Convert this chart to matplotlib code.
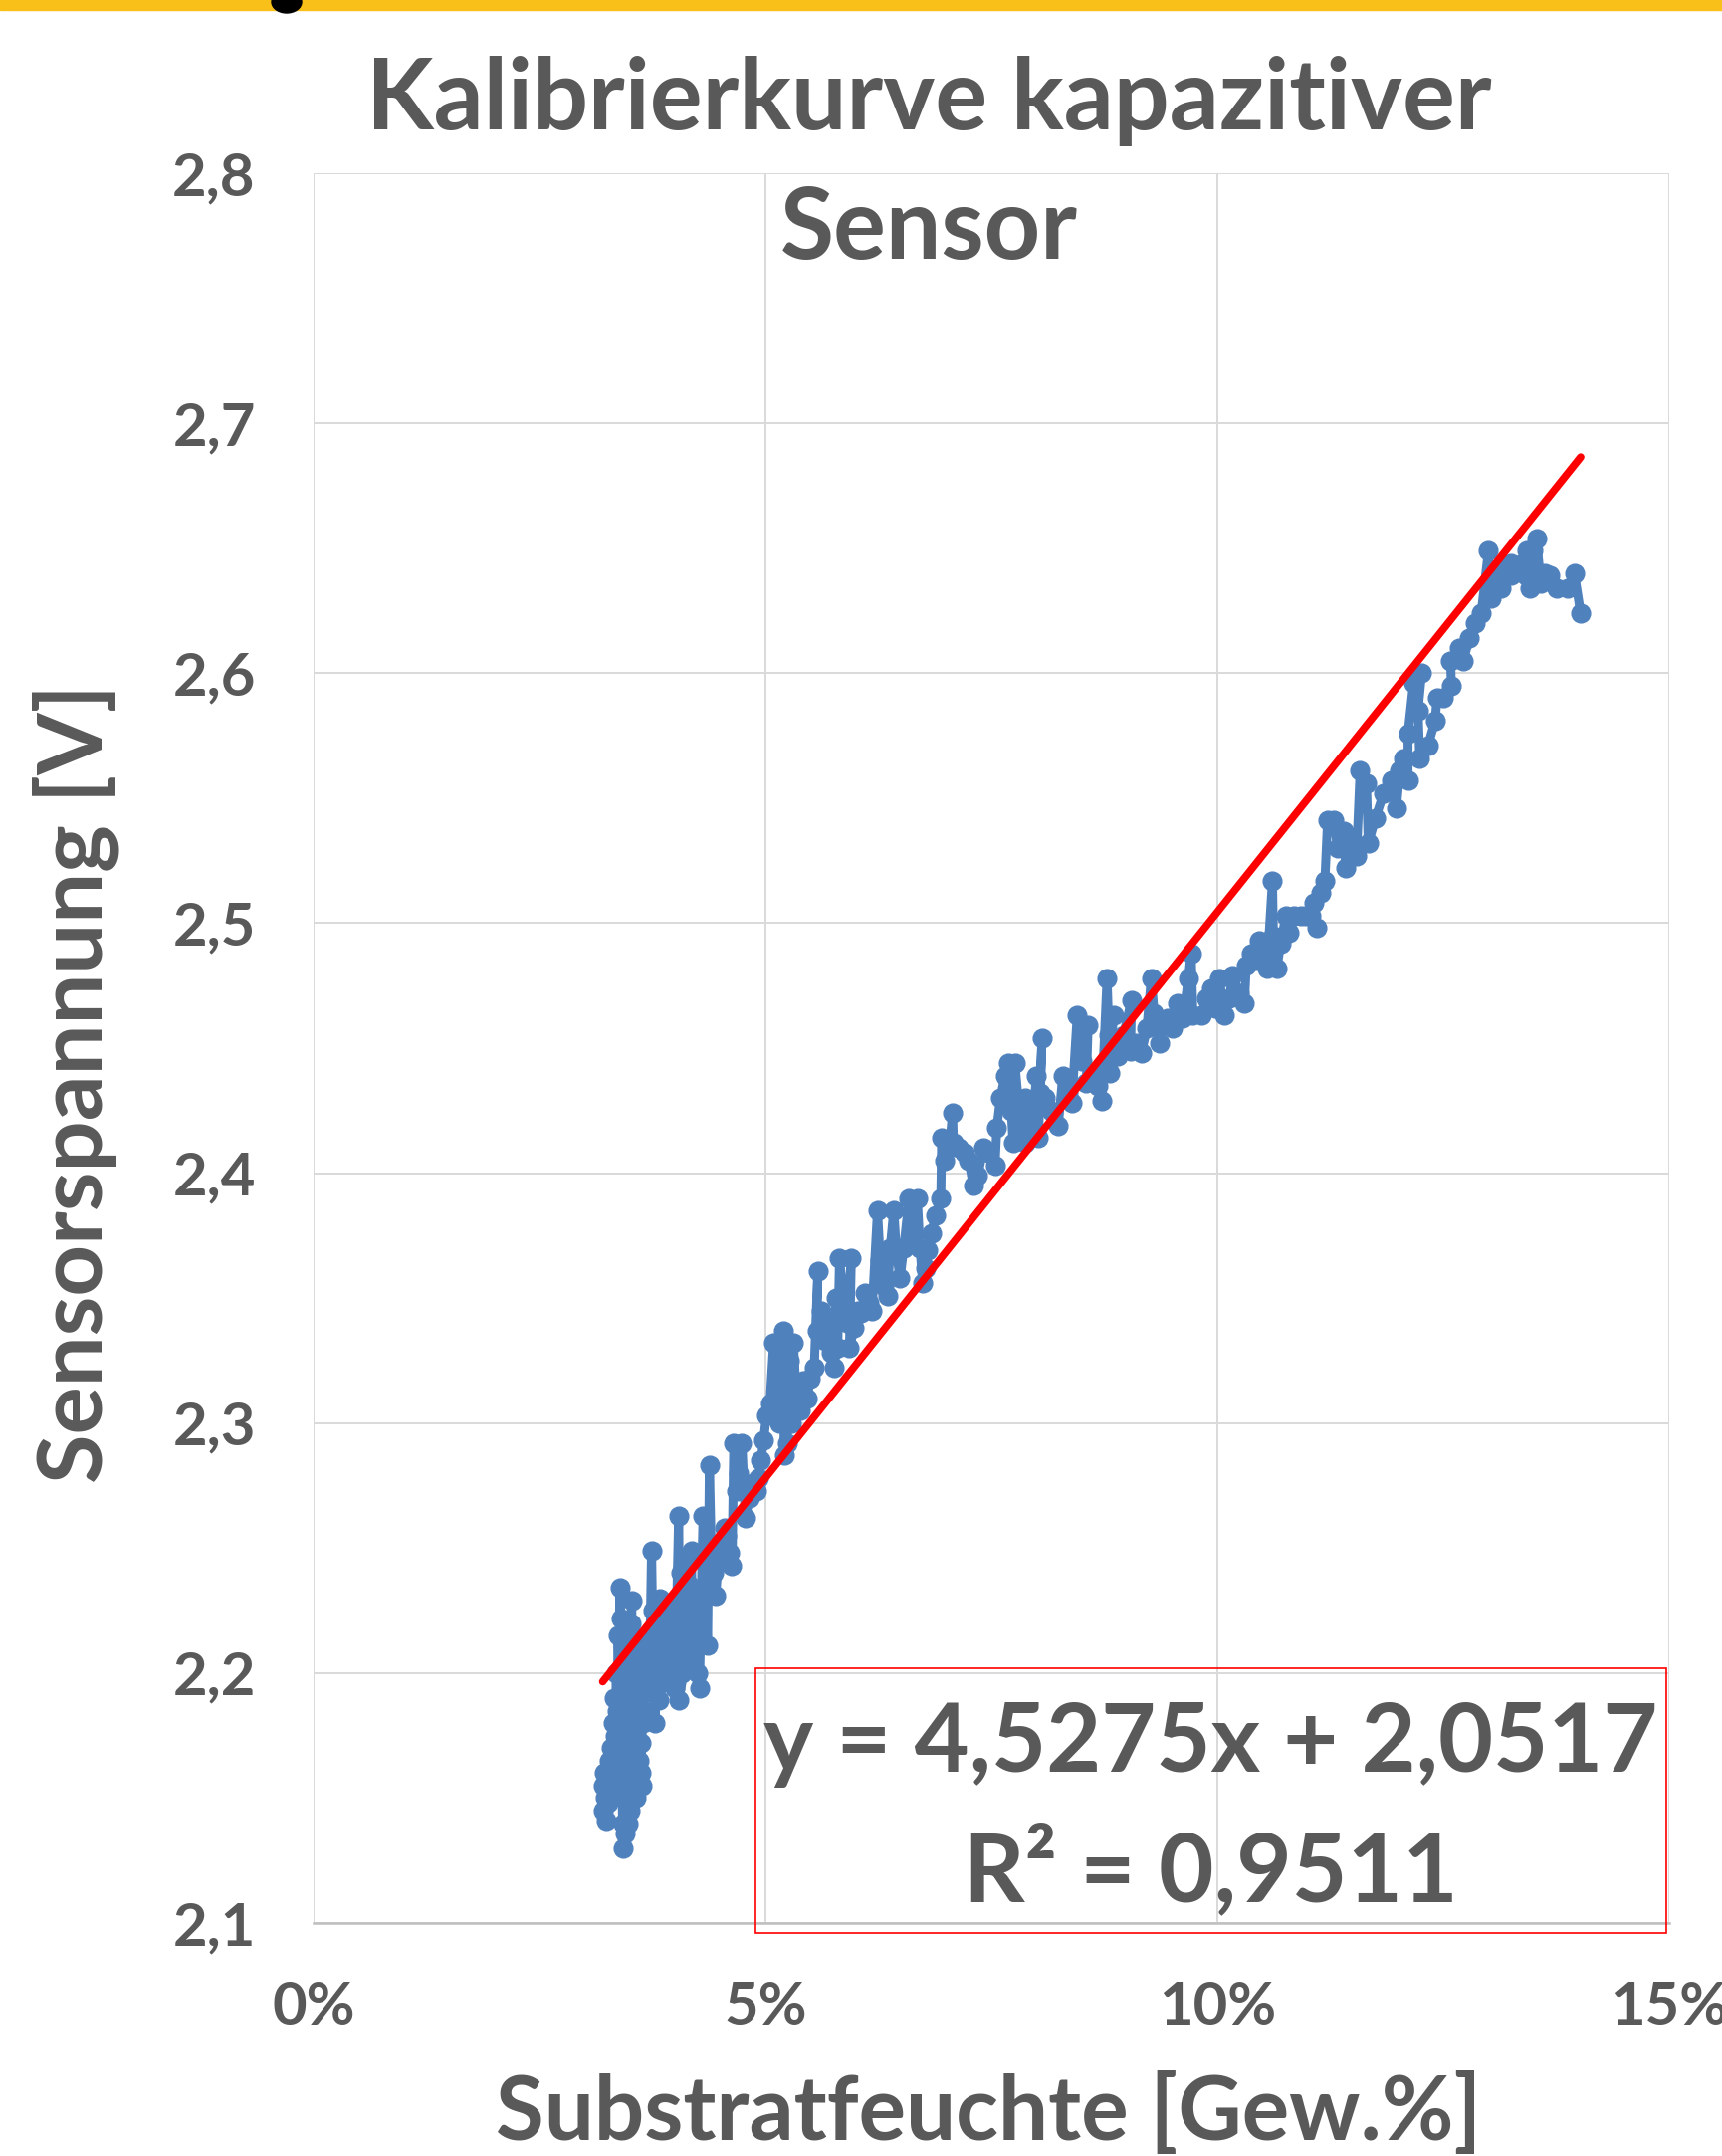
import numpy as np
import matplotlib
matplotlib.use("Agg")
import matplotlib.pyplot as plt
from matplotlib.patches import Rectangle, Ellipse
from matplotlib.ticker import FuncFormatter

# --- data (moisture in %, sensor voltage in V), in recording order ---
moisture_pct = [
    3.20, 3.21, 3.22, 3.23, 3.24, 3.25, 3.26, 3.27, 3.28, 3.29, 3.30, 3.31, 3.32, 3.33, 3.34,
    3.35, 3.36, 3.37, 3.38, 3.39, 3.40, 3.40, 3.41, 3.42, 3.43, 3.43, 3.44, 3.45, 3.45, 3.46,
    3.47, 3.47, 3.48, 3.49, 3.50, 3.50, 3.51, 3.52, 3.53, 3.53, 3.54, 3.55, 3.56, 3.57, 3.58,
    3.59, 3.60, 3.61, 3.62, 3.63,
    3.58, 3.55, 3.52, 3.48, 3.46, 3.50, 3.54, 3.57, 3.60, 3.62,
    3.64, 3.65, 3.66, 3.68, 3.70, 3.72, 3.74, 3.75, 3.76, 3.78,
    3.79, 3.81, 3.82, 3.83, 3.85, 3.87, 3.89, 3.91, 3.93, 3.95, 3.98, 4.00, 4.02, 4.04, 4.05,
    4.06, 4.08, 4.10, 4.12,
    4.04, 4.07, 4.10, 4.13, 4.16, 4.18, 4.19, 4.20, 4.23, 4.25, 4.27, 4.29, 4.31, 4.33, 4.36,
    4.38, 4.40, 4.43, 4.45, 4.48, 4.52, 4.55, 4.57, 4.60, 4.63, 4.65, 4.68, 4.70, 4.74, 4.76,
    4.78, 4.82, 4.86, 4.90, 4.92, 4.95, 4.98, 5.01, 5.05, 5.09, 5.12, 5.15, 5.18, 5.20, 5.21,
    5.22, 5.24, 5.26, 5.29,
    5.24, 5.28, 5.31, 5.34, 5.38, 5.42, 5.46, 5.50, 5.54, 5.58, 5.57, 5.62, 5.66, 5.70, 5.73,
    5.76, 5.78, 5.80, 5.82, 5.86, 5.90, 5.95, 5.93, 5.98, 6.02, 6.06, 6.10, 6.14, 6.18, 6.24, 6.27, 6.31,
    6.35, 6.38, 6.42, 6.45, 6.49, 6.53, 6.59, 6.63, 6.68, 6.71, 6.74, 6.77, 6.80, 6.84, 6.88,
    6.94, 6.95, 6.98, 7.04, 7.07, 7.08, 7.14, 7.20, 7.25, 7.30, 7.35, 7.41, 7.47, 7.54, 7.56,
    7.60, 7.65, 7.69, 7.72, 7.74, 7.76, 7.80, 7.84, 7.87, 7.87, 7.94, 8.00, 8.02, 8.06, 8.04,
    8.10, 8.16, 8.24, 8.29, 8.35, 8.39, 8.45, 8.50, 8.57, 8.55, 8.62, 8.68, 8.72, 8.78, 8.80,
    8.85, 8.81, 8.90, 8.96, 9.05, 9.04, 9.10, 9.16, 9.22, 9.27, 9.30, 9.36, 9.40, 9.45, 9.50,
    9.56, 9.62, 9.68, 9.71, 9.73, 9.82, 9.88, 9.93, 9.98, 10.02, 10.08, 10.13, 10.17, 10.24, 10.30,
    10.32, 10.37, 10.42, 10.46, 10.50, 10.55, 10.61, 10.62, 10.66, 10.70, 10.76, 10.79, 10.85, 10.92, 10.98,
    11.03, 11.10, 11.07, 11.14, 11.19, 11.22, 11.29, 11.33, 11.40, 11.42, 11.46, 11.54, 11.58, 11.65, 11.67,
    11.75, 11.84, 11.93, 11.98, 12.02, 12.06, 12.11, 12.11, 12.17, 12.26, 12.22, 12.24, 12.33, 12.41, 12.43,
    12.50, 12.59, 12.58, 12.68, 12.72, 12.79, 12.85, 12.92, 13.00, 13.01, 13.03, 13.08, 13.14, 13.14, 13.25,
    13.25, 13.38, 13.42, 13.41, 13.46, 13.49, 13.53, 13.58, 13.62, 13.68, 13.75, 13.88, 13.95, 14.02,
]
voltage = [
    2.155, 2.145, 2.160, 2.150, 2.141, 2.158, 2.148, 2.165, 2.155, 2.170, 2.160, 2.180, 2.168, 2.190, 2.175,
    2.200, 2.185, 2.215, 2.200, 2.234, 2.222, 2.190, 2.160, 2.140, 2.130, 2.150, 2.165, 2.136, 2.175, 2.195,
    2.160, 2.210, 2.185, 2.150, 2.145, 2.200, 2.220, 2.229, 2.200, 2.175, 2.160, 2.185, 2.205, 2.170, 2.195,
    2.180, 2.165, 2.190, 2.172, 2.155,
    2.210, 2.150, 2.215, 2.140, 2.220, 2.160, 2.212, 2.150, 2.205, 2.160,
    2.180, 2.205, 2.185, 2.200, 2.215, 2.205, 2.249, 2.225, 2.200, 2.180,
    2.205, 2.195, 2.189, 2.230, 2.215, 2.200, 2.225, 2.215, 2.220, 2.205, 2.200, 2.194, 2.230, 2.263, 2.215,
    2.240, 2.200, 2.245, 2.205,
    2.189, 2.210, 2.225, 2.215, 2.235, 2.249, 2.225, 2.205, 2.215, 2.200, 2.194, 2.230, 2.263, 2.245, 2.211,
    2.283, 2.250, 2.240, 2.231, 2.245, 2.250, 2.258, 2.255, 2.248, 2.243, 2.292, 2.273, 2.280, 2.292, 2.275,
    2.262, 2.270, 2.276, 2.273, 2.278, 2.285, 2.293, 2.303, 2.308, 2.332, 2.310, 2.300, 2.320, 2.337, 2.287,
    2.320, 2.292, 2.325, 2.300,
    2.305, 2.318, 2.332, 2.312, 2.305, 2.317, 2.310, 2.318, 2.322, 2.361, 2.337, 2.345, 2.333, 2.340, 2.328,
    2.322, 2.350, 2.330, 2.366, 2.350, 2.340, 2.366, 2.330, 2.338, 2.345, 2.344, 2.352, 2.348, 2.345, 2.385, 2.365, 2.355,
    2.351, 2.370, 2.385, 2.368, 2.358, 2.370, 2.390, 2.375, 2.390, 2.370, 2.356, 2.362, 2.369, 2.376, 2.383,
    2.390, 2.414, 2.405, 2.412, 2.424, 2.412, 2.410, 2.408, 2.405, 2.395, 2.399, 2.410, 2.408, 2.403, 2.418,
    2.430, 2.439, 2.444, 2.425, 2.412, 2.444, 2.428, 2.418, 2.430, 2.412, 2.414, 2.439, 2.414, 2.454, 2.432,
    2.430, 2.425, 2.419, 2.439, 2.432, 2.428, 2.463, 2.445, 2.459, 2.436, 2.440, 2.435, 2.429, 2.478, 2.455,
    2.463, 2.440, 2.447, 2.455, 2.469, 2.449, 2.452, 2.448, 2.458, 2.478, 2.464, 2.452, 2.460, 2.462, 2.458,
    2.468, 2.462, 2.478, 2.488, 2.463, 2.463, 2.470, 2.474, 2.466, 2.478, 2.463, 2.470, 2.479, 2.472, 2.468,
    2.483, 2.488, 2.485, 2.493, 2.488, 2.482, 2.517, 2.495, 2.482, 2.492, 2.503, 2.496, 2.503, 2.503, 2.503,
    2.503, 2.498, 2.508, 2.512, 2.517, 2.541, 2.541, 2.530, 2.537, 2.522, 2.534, 2.527, 2.561, 2.556, 2.532,
    2.542, 2.552, 2.557, 2.546, 2.561, 2.566, 2.557, 2.576, 2.596, 2.600, 2.585, 2.566, 2.571, 2.581, 2.590,
    2.590, 2.595, 2.605, 2.610, 2.605, 2.614, 2.620, 2.624, 2.649, 2.635, 2.630, 2.636, 2.634, 2.641, 2.639,
    2.644, 2.644, 2.649, 2.639, 2.634, 2.649, 2.654, 2.636, 2.640, 2.639, 2.634, 2.634, 2.640, 2.624,
]
assert len(moisture_pct) == len(voltage)

# linear trend as printed on the chart
trend_slope = 4.5275
trend_intercept = 2.0517
trend_label = "y = 4,5275x + 2,0517\nR² = 0,9511"

x_ticks = [0.0, 0.05, 0.10, 0.15]
y_ticks = [2.1, 2.2, 2.3, 2.4, 2.5, 2.6, 2.7, 2.8]

title_lines = ["Kalibrierkurve kapazitiver", "Sensor"]
x_title = "Substratfeuchte [Gew.%]"
y_title = "Sensorspannung [V]"

TEXT = "#595959"
BLUE = "#4F81BD"
GRID = "#D9D9D9"
FONT = ["Lato", "DejaVu Sans"]

W, H = 1730, 2166
fig = plt.figure(figsize=(W / 100, H / 100), dpi=100)
plt.rcParams["font.family"] = FONT

# yellow strip at the very top (cut-off header) with a clipped glyph
fig.patches.append(Rectangle((0, 1 - 10 / H), 1, 10 / H, transform=fig.transFigure,
                             color="#F9C01A", zorder=0))
fig.patches.append(Ellipse((288 / W, 1 - 2 / H), 30 / W, 22 / H, transform=fig.transFigure,
                           color="black", zorder=1))

ax = fig.add_axes([315 / W, 1 - 1932 / H, 1362 / W, 1758 / H])
x = np.array(moisture_pct) / 100
y = np.array(voltage)

ax.plot(x, y, color=BLUE, lw=6.5, marker="o", ms=13.5, mfc=BLUE, mec=BLUE,
        solid_joinstyle="round", zorder=3)

xt = np.array([x.min(), x.max()])
ax.plot(xt, trend_slope * xt + trend_intercept, color="#FF0000", lw=5.5,
        solid_capstyle="round", zorder=4)

ax.set_xlim(0, 0.15)
ax.set_ylim(2.1, 2.8)
ax.set_xticks(x_ticks)
ax.set_yticks(y_ticks)
ax.xaxis.set_major_formatter(FuncFormatter(lambda v, p: f"{v * 100:.0f}%"))
ax.yaxis.set_major_formatter(FuncFormatter(lambda v, p: f"{v:.1f}".replace(".", ",")))
ax.grid(True, color=GRID, lw=1.4, zorder=0)
ax.set_axisbelow(True)
for s in ["top", "right", "left"]:
    ax.spines[s].set_visible(False)
ax.spines["bottom"].set_color("#BFBFBF")
ax.spines["bottom"].set_linewidth(1.8)
ax.tick_params(length=0, labelsize=43, labelcolor=TEXT, pad=42)
for lab in ax.get_xticklabels() + ax.get_yticklabels():
    lab.set_fontweight("bold")

# titles
fig.text(933 / W, 1 - 130 / H, title_lines[0], ha="center", va="baseline",
         fontsize=71, fontweight="bold", color=TEXT)
fig.text(933 / W, 1 - 260 / H, title_lines[1], ha="center", va="baseline",
         fontsize=71, fontweight="bold", color=TEXT)
fig.text(993 / W, 1 - 2150 / H, x_title, ha="center", va="baseline",
         fontsize=64, fontweight="bold", color=TEXT)
fig.text(76 / W, 1 - 1088 / H, y_title, ha="center", va="center",
         rotation=90, fontsize=65, fontweight="bold", color=TEXT)

# trendline label box
fig.patches.append(Rectangle((759 / W, 1 - 1942 / H), 915 / W, 266 / H, transform=fig.transFigure,
                             fill=False, ec="#FF0000", lw=1.2, zorder=5))
l1, l2 = trend_label.split("\n")
fig.text(1216 / W, 1 - 1780 / H, l1, ha="center", va="baseline",
         fontsize=68.5, fontweight="bold", color=TEXT, zorder=6)
fig.text(1216 / W, 1 - 1910 / H, l2, ha="center", va="baseline",
         fontsize=69, fontweight="bold", color=TEXT, zorder=6)

fig.savefig("out.png", dpi=100)
